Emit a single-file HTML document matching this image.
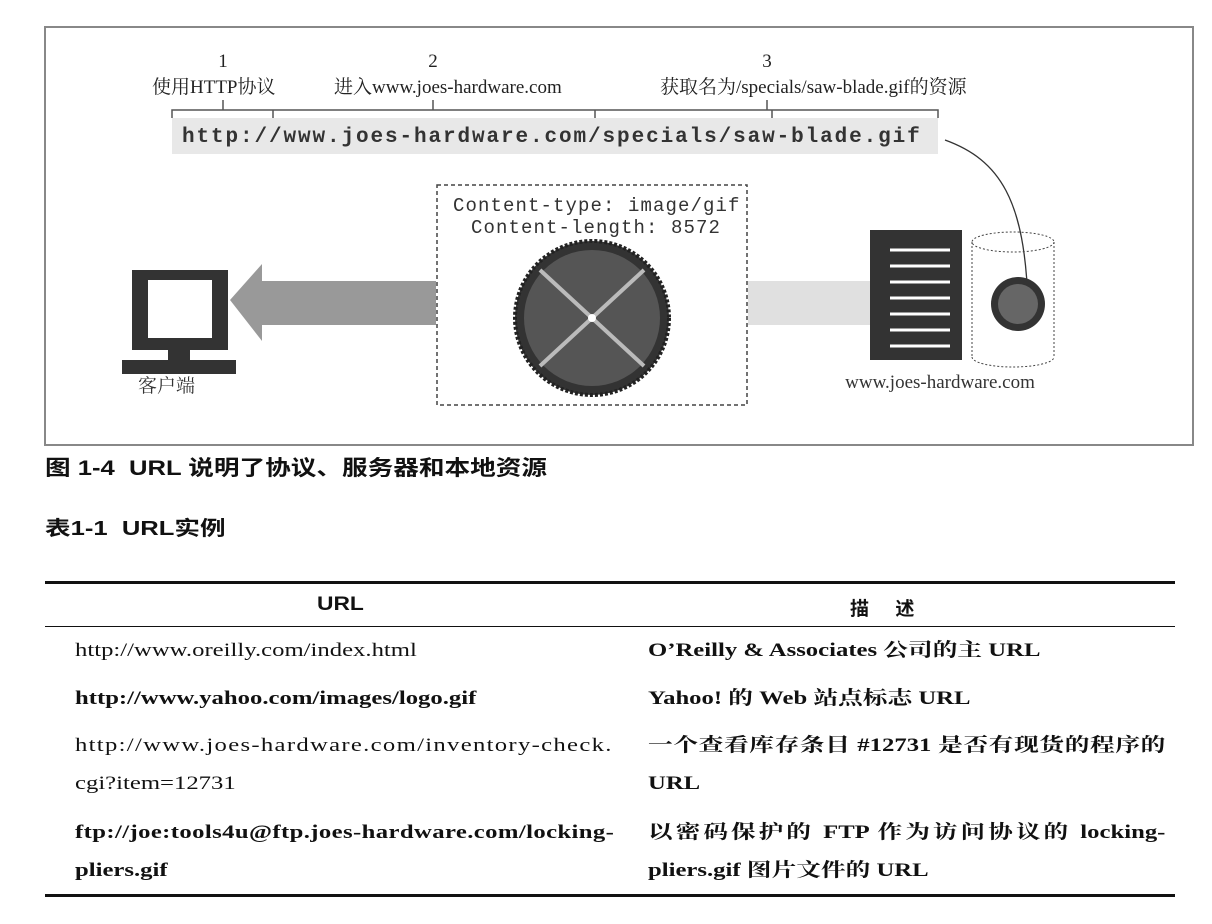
<!DOCTYPE html>
<html><head><meta charset="utf-8"><style>
body{margin:0;width:1212px;height:924px;background:#fff;overflow:hidden;font-family:"Liberation Serif","Noto Serif CJK SC",serif;color:#111}
.abs{position:absolute;white-space:nowrap}
.cap{font-family:"Liberation Sans","Noto Sans CJK SC",sans-serif;font-weight:bold;font-size:21px;transform-origin:0 0}
.t{font-size:19px;transform:scaleX(1.3);transform-origin:0 0;line-height:38px}
.b{font-weight:bold}
.j{display:block;text-align:justify;text-align-last:justify}
</style></head><body>
<svg class="abs" style="left:0;top:0" width="1212" height="460">
<rect x="45" y="27" width="1148" height="418" fill="#fff" stroke="#888" stroke-width="2"/>
<g font-family="Liberation Serif,Noto Serif CJK SC,serif" font-size="19" fill="#222">
<text x="223" y="67" text-anchor="middle">1</text>
<text x="433" y="67" text-anchor="middle">2</text>
<text x="767" y="67" text-anchor="middle">3</text>
<text x="152" y="93">使用HTTP协议</text>
<text x="334" y="93">进入www.joes-hardware.com</text>
<text x="660" y="93">获取名为/specials/saw-blade.gif的资源</text>
</g>
<rect x="172" y="118" width="766" height="36" fill="#e8e8e8"/>
<path d="M172,118v-8h600v8M273,110v8M595,110v8M938,118v-8h-343M223,100v10M433,100v10M767,100v10" stroke="#555" fill="none" stroke-width="1.5"/>
<text x="182" y="142" font-family="Liberation Mono,monospace" font-size="21" font-weight="bold" fill="#333" letter-spacing="1.9">http://www.joes-hardware.com/specials/saw-blade.gif</text>
<path d="M945,140 C1000,160 1025,200 1028,305" stroke="#333" fill="none" stroke-width="1.3"/>
<path d="M1023,298 L1028,310 L1033,298Z" fill="#333"/>
<rect x="437" y="185" width="310" height="220" fill="#fff" stroke="#444" stroke-width="1.5" stroke-dasharray="4,3"/>
<text x="453" y="211" font-family="Liberation Mono,monospace" font-size="19" fill="#333" letter-spacing="1.1">Content-type: image/gif</text>
<text x="471" y="233" font-family="Liberation Mono,monospace" font-size="19" fill="#333" letter-spacing="1.1">Content-length: 8572</text>
<polygon points="230,300 262,264 262,281 436,281 436,325 262,325 262,341" fill="#999"/>
<rect x="748" y="281" width="210" height="44" fill="#e0e0e0"/>
<circle cx="592" cy="318" r="77" fill="#333" stroke="#222" stroke-width="4" stroke-dasharray="3,2"/>
<circle cx="592" cy="318" r="68" fill="#555"/>
<path d="M540,270L644,366M644,270L540,366" stroke="#bbb" stroke-width="4"/>
<circle cx="592" cy="318" r="4" fill="#fff"/>
<rect x="132" y="270" width="96" height="80" fill="#333"/>
<rect x="148" y="280" width="64" height="58" fill="#fff"/>
<rect x="168" y="350" width="22" height="12" fill="#333"/>
<rect x="122" y="360" width="114" height="14" fill="#333"/>
<text x="138" y="392" font-size="19" font-family="Noto Serif CJK SC,serif" fill="#333">客户端</text>
<rect x="870" y="230" width="92" height="130" fill="#333"/>
<g stroke="#fff" stroke-width="3"><path d="M890,250h60M890,266h60M890,282h60M890,298h60M890,314h60M890,330h60M890,346h60"/></g>
<path d="M972,242v115M1054,242v115" stroke="#444" stroke-dasharray="2,2" fill="none"/>
<ellipse cx="1013" cy="242" rx="41" ry="10" fill="none" stroke="#444" stroke-dasharray="2,2"/>
<path d="M972,357a41,10 0 0 0 82,0" fill="none" stroke="#444" stroke-dasharray="2,2"/>
<circle cx="1018" cy="304" r="27" fill="#333"/>
<circle cx="1018" cy="304" r="20" fill="#666"/>
<text x="940" y="388" text-anchor="middle" font-size="19" fill="#333">www.joes-hardware.com</text>
</svg>
<div class="abs cap" style="left:45px;top:452px;transform:scaleX(1.22)">图 1-4 &nbsp;URL 说明了协议、服务器和本地资源</div>
<div class="abs cap" style="left:45px;top:512px;font-size:20px;transform:scaleX(1.28)">表1-1 &nbsp;URL实例</div>
<div class="abs" style="left:45px;top:581px;width:1130px;height:3px;background:#111"></div>
<div class="abs" style="left:45px;top:626px;width:1130px;height:1px;background:#111"></div>
<div class="abs" style="left:45px;top:894px;width:1130px;height:3px;background:#111"></div>
<div class="abs cap" style="left:317px;top:594px;font-size:19px;transform:scaleX(1.2)">URL</div>
<div class="abs cap" style="left:850px;top:594px;font-size:19px">描 &nbsp;&nbsp;&nbsp;&nbsp;述</div>
<div class="abs t" style="left:75px;top:632px">http://www.oreilly.com/index.html</div>
<div class="abs t b" style="left:648px;top:632px">O’Reilly &amp; Associates 公司的主 URL</div>
<div class="abs t b" style="left:75px;top:680px">http://www.yahoo.com/images/logo.gif</div>
<div class="abs t b" style="left:648px;top:680px">Yahoo! 的 Web 站点标志 URL</div>
<div class="abs t" style="left:75px;top:727px"><span style="letter-spacing:1px">http://www.joes-hardware.com/inventory-check.</span><br>cgi?item=12731</div>
<div class="abs t b" style="left:648px;top:727px;width:398px"><span class="j">一个查看库存条目 #12731 是否有现货的程序的</span>URL</div>
<div class="abs t b" style="left:75px;top:814px"><span style="letter-spacing:0.3px">ftp://joe:tools4u@ftp.joes-hardware.com/locking-</span><br>pliers.gif</div>
<div class="abs t b" style="left:648px;top:814px;width:398px"><span class="j">以密码保护的 FTP 作为访问协议的 locking-</span>pliers.gif 图片文件的 URL</div>
</body></html>
